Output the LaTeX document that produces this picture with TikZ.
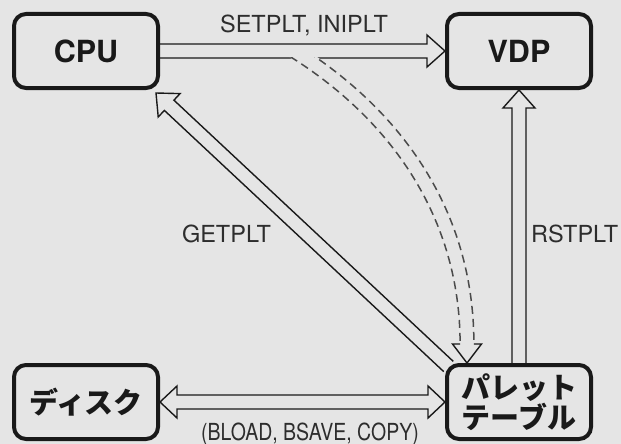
\documentclass[tikz,border=0pt]{standalone}
\usepackage{fontspec}
\setmainfont{TeX Gyre Heros}
\newfontfamily\jpfont{Noto Sans CJK JP}
\usetikzlibrary{calc}
\pgfdeclarelayer{backdrop}
\pgfdeclarelayer{arrowlayer}
\pgfsetlayers{backdrop,arrowlayer,main}
\definecolor{bg}{RGB}{229,229,229}
\definecolor{ink}{RGB}{25,25,25}
\definecolor{txt}{RGB}{45,45,45}
\definecolor{dashink}{RGB}{75,75,75}
\tikzset{
  box/.style={draw=ink, line width=4pt, rounded corners=12pt, minimum width=144pt,
    minimum height=74pt, inner sep=0pt, fill=bg, text=ink},
  arr/.style={draw=ink, line width=1.4pt, fill=bg, line join=miter},
  dashline/.style={draw=dashink, line width=1.5pt, dash pattern=on 8pt off 5pt},
  eraser/.style={draw=bg, line width=15.5pt},
  lbl/.style={text=txt, inner sep=0pt, font=\fontsize{23.5pt}{23.5pt}\selectfont},
  latinbox/.style={font=\bfseries\fontsize{30.5pt}{30.5pt}\selectfont},
  jpbox/.style={font=\jpfont\bfseries\fontsize{29pt}{28pt}\selectfont, align=center},
}
% single-headed block arrow: #1 tail, #2 tip
\newcommand\blockarr[2]{%
  \coordinate (hbx) at ($(#2)!18pt!(#1)$);
  \filldraw[arr] ($(#1)!7pt!90:(#2)$) -- ($(hbx)!7pt!-90:(#1)$) -- ($(hbx)!16pt!-90:(#1)$)
    -- (#2) -- ($(hbx)!16pt!90:(#1)$) -- ($(hbx)!7pt!90:(#1)$) -- ($(#1)!7pt!-90:(#2)$);
}
% double-headed block arrow between #1 and #2
\newcommand\dblockarr[2]{%
  \coordinate (hba) at ($(#1)!17pt!(#2)$);
  \coordinate (hbb) at ($(#2)!17pt!(#1)$);
  \filldraw[arr] (#1) -- ($(hba)!16pt!-90:(#2)$) -- ($(hba)!7pt!-90:(#2)$)
    -- ($(hbb)!7pt!90:(#1)$) -- ($(hbb)!16pt!90:(#1)$) -- (#2)
    -- ($(hbb)!16pt!-90:(#1)$) -- ($(hbb)!7pt!-90:(#1)$)
    -- ($(hba)!7pt!90:(#2)$) -- ($(hba)!16pt!90:(#2)$) -- cycle;
}
\begin{document}
\begin{tikzpicture}[x=1pt,y=-1pt]
  \begin{pgfonlayer}{backdrop}
    \fill[bg] (0,0) rectangle (621,444);
  \end{pgfonlayer}
  \useasboundingbox (0,0) rectangle (621,444);

  % boxes
  \node[box, latinbox] (cpu) at (86,51) {CPU};
  \node[box, latinbox] (vdp) at (519,51) {VDP};
  \node[box, jpbox] (disk) at (86,402) {ディスク};
  \node[box, jpbox] (pal) at (519,402) {パレット\\テーブル};

  % labels
  \node[lbl, anchor=base] (setlbl) at (304,33) {SETPLT, INIPLT};
  \node[lbl, anchor=base] (getlbl) at (226.5,242) {GETPLT};
  \node[lbl, anchor=base west] (rstlbl) at (531,242) {RSTPLT};
  \node[lbl, anchor=base] (bloadlbl) at (310,440) {\scalebox{0.83}[1]{(BLOAD, BSAVE, COPY)}};

  \begin{pgfonlayer}{arrowlayer}
    % CPU -> VDP
    \blockarr{cpu.east}{vdp.west}
    % VDP <- palette (RSTPLT)
    \blockarr{pal.north}{vdp.south}
    % CPU <- palette (GETPLT)
    \coordinate (gtail) at ($(pal.north west)+(3.5,3.5)$);
    \coordinate (gtip) at ($(cpu.south east)+(-4,3)$);
    \blockarr{gtail}{gtip}
    % disk <-> palette
    \dblockarr{disk.east}{pal.west}

    % dashed branch to palette
    \coordinate (ds) at ($(cpu.east)+(134,0)$);
    \coordinate (dt) at ($(pal.north west)+(22,0)$);
    \coordinate (dh) at ($(dt)+(0,-19)$);
    \coordinate (dsi) at ($(ds)+(-3.6,5.8)$);
    \coordinate (dso) at ($(ds)+(3.6,-5.8)$);
    \coordinate (dhi) at ($(dh)+(-6.9,0)$);
    \coordinate (dho) at ($(dh)+(6.9,0)$);
    \begin{scope}
      \clip (0,57.6) rectangle (621,444);
      \draw[eraser] (ds) .. controls ($(ds)+(102,64)$) and ($(dh)+(0,-130)$) .. (dh);
      \draw[dashline] (dsi) .. controls ($(dsi)+(99.7,62.5)$) and ($(dhi)+(0,-127)$) .. (dhi);
      \draw[dashline] (dso) .. controls ($(dso)+(104.3,65.5)$) and ($(dho)+(0,-133)$) .. (dho);
    \end{scope}
    \filldraw[arr] (dhi) -- ($(dh)+(-14.5,0)$) -- (dt) -- ($(dh)+(14.5,0)$) -- (dho);
  \end{pgfonlayer}
\end{tikzpicture}
\end{document}
